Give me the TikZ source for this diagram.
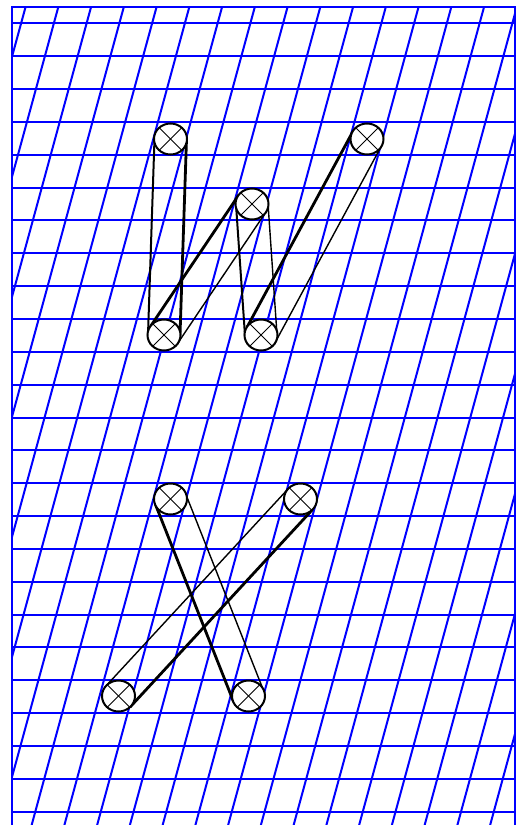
\documentclass[tikz,border=0pt]{standalone}
\usetikzlibrary{calc}
\newcommand\penstroke[4]{%
  \draw[#3] ($(#1)!16pt!90:(#2)$) -- ($(#2)!16pt!-90:(#1)$);
  \draw[#4] ($(#1)!16pt!-90:(#2)$) -- ($(#2)!16pt!90:(#1)$);
}
\begin{document}
\begin{tikzpicture}[x=1pt,y=-1pt,
  gridline/.style={draw=blue, line width=2pt},
  thickstroke/.style={draw=black, line width=2.8pt},
  midstroke/.style={draw=black, line width=2pt},
  thinstroke/.style={draw=black, line width=1.4pt},
  pencircle/.style={draw=black, fill=white, line width=2pt},
  crossline/.style={draw=black, line width=0.8pt}]
\useasboundingbox (0,0) rectangle (517,825);
% grid
\begin{scope}
  \clip (12,7) rectangle (515,830);
  \foreach \k in {-1,...,22} {
    \draw[gridline] ({12+0.2728*(66.7+120.05*\k)}, -10) -- ({12+0.2728*(56.7+120.05*\k-840)}, 840);
  }
  \foreach \k in {0,...,24} {
    \draw[gridline] (12, {round(23.3+32.85*\k)}) -- (515, {round(23.3+32.85*\k)});
  }
\end{scope}
\draw[gridline, line join=miter] (12,830) -- (12,7) -- (515,7) -- (515,830);
% letter W
\coordinate (w1) at (170.5,139);
\coordinate (w2) at (164,335);
\coordinate (w3) at (252,204);
\coordinate (w4) at (261,335);
\coordinate (w5) at (367,139);
% letter X
\coordinate (x1) at (170.5,499);
\coordinate (x2) at (300.5,499);
\coordinate (x3) at (118.5,696);
\coordinate (x4) at (248.5,696);
\penstroke{w1}{w2}{thickstroke}{midstroke}
\penstroke{w2}{w3}{thickstroke}{thinstroke}
\penstroke{w3}{w4}{thinstroke}{midstroke}
\penstroke{w4}{w5}{thickstroke}{thinstroke}
\penstroke{x2}{x3}{thickstroke}{thinstroke}
\penstroke{x1}{x4}{thinstroke}{thickstroke}
\foreach \c in {w1,w2,w3,w4,w5,x1,x2,x3,x4} {
  \draw[pencircle] (\c) circle[x radius=16.5pt, y radius=15.5pt];
  \draw[crossline] ($(\c)+(-11pt,-11pt)$) -- ($(\c)+(11pt,11pt)$);
  \draw[crossline] ($(\c)+(-11pt,11pt)$) -- ($(\c)+(11pt,-11pt)$);
}
\end{tikzpicture}
\end{document}
